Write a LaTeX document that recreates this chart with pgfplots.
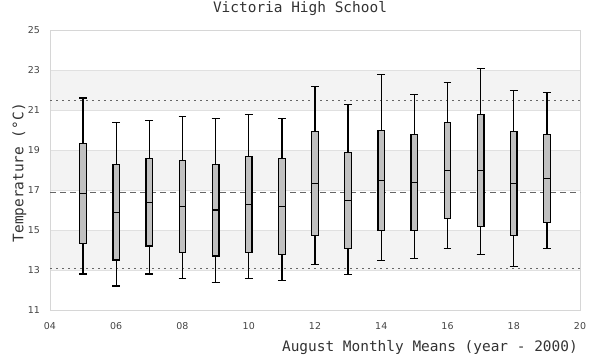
\documentclass[border=0pt]{standalone}
\usepackage{fontspec}
\setmainfont{DejaVu Sans Mono}
\newfontfamily\tickfont{DejaVu Sans}
\usepackage{pgfplots}
\pgfplotsset{compat=1.18}
\usepgfplotslibrary{statistics}
\definecolor{gridc}{HTML}{E0E0E0}
\definecolor{framec}{HTML}{D6D6D6}
\definecolor{band}{HTML}{F3F3F3}
\definecolor{refc}{HTML}{666666}
\definecolor{boxc}{HTML}{C0C0C0}
\definecolor{textc}{HTML}{333333}
\definecolor{tickc}{HTML}{444444}
\pgfplotsset{bx/.style={draw=black, fill=boxc, line width=1.3bp, solid}}
\begin{document}
\begin{tikzpicture}
\begin{axis}[
  set layers,
  scale only axis, width=530bp, height=280bp,
  xmin=4, xmax=20, ymin=11, ymax=25,
  xtick={4,6,...,20},
  xticklabel={\tickfont\fontsize{9.5}{11}\selectfont\pgfmathparse{int(round(\tick))}\ifnum\pgfmathresult<10 0\fi\pgfmathresult},
  ytick={11,13,...,25},
  /pgf/number format/assume math mode=true,
  ymajorgrids, grid style={draw=gridc, line width=0.8bp},
  axis line style={draw=framec, line width=0.8bp},
  major tick length=0pt,
  tick label style={font=\tickfont\fontsize{9.5}{11}\selectfont, text=tickc, inner sep=0pt},
  yticklabel style={anchor=east, xshift=-10bp},
  xticklabel style={anchor=north, yshift=-12bp},
  title={Victoria High School},
  title style={at={(axis description cs:0.4717,1.041)}, anchor=base, inner sep=0pt, font=\fontsize{14.5}{16}\selectfont, text=textc},
  xlabel={August Monthly Means (year - 2000)},
  xlabel style={at={(axis description cs:0.9962,-0.15)}, anchor=base east, inner sep=0pt, font=\fontsize{14.5}{16}\selectfont, text=textc},
  ylabel={Temperature (°C)},
  ylabel style={at={(axis description cs:-0.0504,0.49)}, anchor=base, inner sep=0pt, font=\fontsize{14.5}{16}\selectfont, text=textc},
  boxplot/draw direction=y,
]
% background bands
\addplot[on layer=axis background, fill=band, draw=none] coordinates {(4,21) (20,21) (20,23) (4,23)} -- cycle;
\addplot[on layer=axis background, fill=band, draw=none] coordinates {(4,17) (20,17) (20,19) (4,19)} -- cycle;
\addplot[on layer=axis background, fill=band, draw=none] coordinates {(4,13) (20,13) (20,15) (4,15)} -- cycle;
% reference lines
\addplot[refc, line width=0.9bp, dash pattern=on 1.5bp off 4.5bp] coordinates {(4,21.5) (20,21.5)};
\addplot[refc, line width=0.9bp, dash pattern=on 6bp off 4bp] coordinates {(4,16.88) (20,16.88)};
\addplot[refc, line width=0.9bp, dash pattern=on 1.5bp off 4.5bp] coordinates {(4,13.08) (20,13.08)};
% boxes
\addplot[bx, boxplot prepared={draw position=5, lower whisker=12.8, lower quartile=14.33, median=16.83, upper quartile=19.33, upper whisker=21.6, box extend=0.2, whisker extend=0.24}] coordinates {};
\addplot[bx, boxplot prepared={draw position=6, lower whisker=12.2, lower quartile=13.5, median=15.88, upper quartile=18.28, upper whisker=20.38, box extend=0.2, whisker extend=0.24}] coordinates {};
\addplot[bx, boxplot prepared={draw position=7, lower whisker=12.8, lower quartile=14.2, median=16.38, upper quartile=18.58, upper whisker=20.48, box extend=0.2, whisker extend=0.24}] coordinates {};
\addplot[bx, boxplot prepared={draw position=8, lower whisker=12.58, lower quartile=13.88, median=16.18, upper quartile=18.48, upper whisker=20.68, box extend=0.2, whisker extend=0.24}] coordinates {};
\addplot[bx, boxplot prepared={draw position=9, lower whisker=12.38, lower quartile=13.7, median=16.0, upper quartile=18.28, upper whisker=20.58, box extend=0.2, whisker extend=0.24}] coordinates {};
\addplot[bx, boxplot prepared={draw position=10, lower whisker=12.58, lower quartile=13.88, median=16.28, upper quartile=18.68, upper whisker=20.78, box extend=0.2, whisker extend=0.24}] coordinates {};
\addplot[bx, boxplot prepared={draw position=11, lower whisker=12.48, lower quartile=13.78, median=16.18, upper quartile=18.58, upper whisker=20.58, box extend=0.2, whisker extend=0.24}] coordinates {};
\addplot[bx, boxplot prepared={draw position=12, lower whisker=13.28, lower quartile=14.73, median=17.33, upper quartile=19.93, upper whisker=22.18, box extend=0.2, whisker extend=0.24}] coordinates {};
\addplot[bx, boxplot prepared={draw position=13, lower whisker=12.78, lower quartile=14.08, median=16.48, upper quartile=18.88, upper whisker=21.28, box extend=0.2, whisker extend=0.24}] coordinates {};
\addplot[bx, boxplot prepared={draw position=14, lower whisker=13.48, lower quartile=14.98, median=17.48, upper quartile=19.98, upper whisker=22.78, box extend=0.2, whisker extend=0.24}] coordinates {};
\addplot[bx, boxplot prepared={draw position=15, lower whisker=13.58, lower quartile=14.98, median=17.38, upper quartile=19.78, upper whisker=21.78, box extend=0.2, whisker extend=0.24}] coordinates {};
\addplot[bx, boxplot prepared={draw position=16, lower whisker=14.08, lower quartile=15.58, median=17.98, upper quartile=20.38, upper whisker=22.38, box extend=0.2, whisker extend=0.24}] coordinates {};
\addplot[bx, boxplot prepared={draw position=17, lower whisker=13.78, lower quartile=15.18, median=17.98, upper quartile=20.78, upper whisker=23.08, box extend=0.2, whisker extend=0.24}] coordinates {};
\addplot[bx, boxplot prepared={draw position=18, lower whisker=13.18, lower quartile=14.73, median=17.33, upper quartile=19.93, upper whisker=21.98, box extend=0.2, whisker extend=0.24}] coordinates {};
\addplot[bx, boxplot prepared={draw position=19, lower whisker=14.08, lower quartile=15.38, median=17.58, upper quartile=19.78, upper whisker=21.88, box extend=0.2, whisker extend=0.24}] coordinates {};
\end{axis}
\path (current axis.south west) ++(-50bp,-50bp) rectangle ++(600bp,360bp);
\end{tikzpicture}
\end{document}
